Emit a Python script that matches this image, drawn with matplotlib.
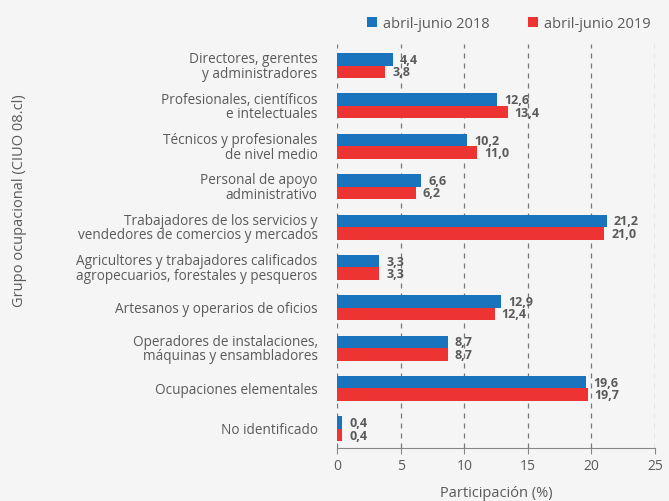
import matplotlib.pyplot as plt
import numpy as np

plt.rcParams['font.family'] = ['Open Sans', 'DejaVu Sans']

categorias = [
    "Directores, gerentes\ny administradores",
    "Profesionales, científicos\ne intelectuales",
    "Técnicos y profesionales\nde nivel medio",
    "Personal de apoyo\nadministrativo",
    "Trabajadores de los servicios y\nvendedores de comercios y mercados",
    "Agricultores y trabajadores calificados\nagropecuarios, forestales y pesqueros",
    "Artesanos y operarios de oficios",
    "Operadores de instalaciones,\nmáquinas y ensambladores",
    "Ocupaciones elementales",
    "No identificado",
]
v2018 = [4.4, 12.6, 10.2, 6.6, 21.2, 3.3, 12.9, 8.7, 19.6, 0.4]
v2019 = [3.8, 13.4, 11.0, 6.2, 21.0, 3.3, 12.4, 8.7, 19.7, 0.4]
series = ["abril-junio 2018", "abril-junio 2019"]

bg = "#f5f5f5"
txt = "#5a5a5a"
azul = "#1a73bd"
rojo = "#ee3333"

fig = plt.figure(figsize=(6.69, 5.02), dpi=100, facecolor=bg)
ax = fig.add_axes([0.504, 0.106, 0.475, 0.804], facecolor=bg)

y = np.arange(len(categorias))
h = 0.31
b1 = ax.barh(y - h / 2 + 0.03, v2018, height=h, color=azul, label=series[0])
b2 = ax.barh(y + h / 2 + 0.03, v2019, height=h, color=rojo, label=series[1])

def fmt(v):
    return f"{v:.1f}".replace(".", ",")

for bars, vals in ((b1, v2018), (b2, v2019)):
    for r, v in zip(bars, vals):
        ax.text(v + 0.55, r.get_y() + r.get_height() / 2, fmt(v),
                va="center", ha="left", fontsize=9, fontweight="bold", color=txt)

ax.set_xlim(0, 25)
ax.set_ylim(len(categorias) - 0.5, -0.5)
ax.set_xticks(np.arange(0, 26, 5))
ax.set_yticks(y)
ax.set_yticklabels(categorias, fontsize=9.8, color=txt, linespacing=0.95)
ax.tick_params(axis="y", length=0, pad=14)
ax.tick_params(axis="x", length=4, color="#888888", labelcolor=txt, labelsize=10, pad=3)

ax.grid(axis="x", linestyle=(0, (4, 4)), color="#777777", linewidth=0.9)
ax.set_axisbelow(True)
for s in ["top", "right", "left"]:
    ax.spines[s].set_visible(False)
ax.spines["bottom"].set_color("#888888")

ax.set_xlabel("Participación (%)", fontsize=10.5, color=txt, labelpad=9)
fig.text(0.029, 0.60, "Grupo ocupacional (CIUO 08.cl)", rotation=90,
         ha="center", va="center", fontsize=10.5, color=txt)

ax.legend(loc="lower center", bbox_to_anchor=(0.54, 1.0), ncol=2, frameon=False,
          fontsize=10.5, labelcolor=txt, handlelength=0.7, handleheight=0.7,
          handletextpad=0.4, columnspacing=2.6)

fig.savefig("out.png", dpi=100, facecolor=bg)
